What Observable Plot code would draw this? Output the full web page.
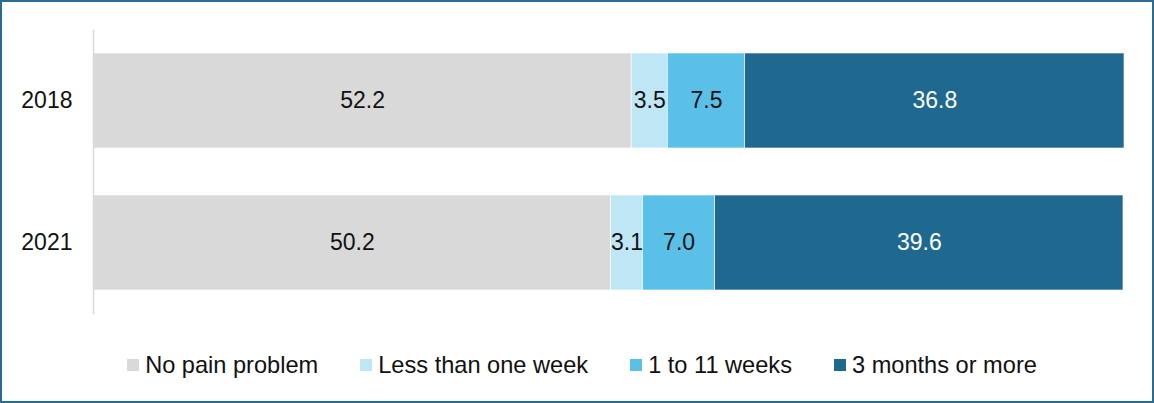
<!DOCTYPE html>
<html>
<head>
<meta charset="utf-8">
<script src="https://cdn.jsdelivr.net/npm/d3@7"></script>
<script src="https://cdn.jsdelivr.net/npm/@observablehq/plot@0.6"></script>
<style>
  html, body { margin: 0; padding: 0; background: #fff; }
  #wrap { position: relative; width: 1154px; height: 403px; font-family: "Liberation Sans", Arial, sans-serif; }
  #chart { position: absolute; left: 0; top: 0; }
  #legend { position: absolute; left: 5px; width: 1154px; top: 352px; display: flex; justify-content: center; gap: 42px; font-size: 23.6px; line-height: 26px; color: #111; }
  .item { display: flex; align-items: center; }
  .sw { width: 12px; height: 12px; margin-right: 6px; }
  #frame { position: absolute; left: 0; top: 0; width: 1154px; height: 403px; box-sizing: border-box; border: 2px solid #2b6c93; pointer-events: none; }
</style>
</head>
<body>
<div id="wrap">
  <div id="chart"></div>
  <div id="legend"></div>
  <div id="frame"></div>
</div>
<script>
const years = ["2018", "2021"];
const categories = ["No pain problem", "Less than one week", "1 to 11 weeks", "3 months or more"];
const colors = ["#d9d9d9", "#bee6f4", "#5bc0e8", "#1f6990"];
const labelColors = ["#111111", "#111111", "#111111", "#ffffff"];
const values2018 = [52.2, 3.5, 7.5, 36.8];
const values2021 = [50.2, 3.1, 7.0, 39.6];

const seriesByYear = {"2018": values2018, "2021": values2021};
const data = [];
for (const y of years) {
  categories.forEach((c, i) => {
    data.push({year: y, cat: c, value: seriesByYear[y][i], color: colors[i], labelColor: labelColors[i]});
  });
}

const chart = Plot.plot({
  width: 1154,
  height: 330,
  marginTop: 30,
  marginBottom: 16,
  marginLeft: 93,
  marginRight: 30,
  style: {fontFamily: "'Liberation Sans', Arial, sans-serif", fontSize: "23px", color: "#111", background: "transparent"},
  x: {domain: [0, 100], axis: null},
  y: {domain: years, paddingInner: 0.33, paddingOuter: 0.165, label: null},
  color: {type: "identity"},
  marks: [
    Plot.barX(data, Plot.stackX({x: "value", y: "year", z: "cat", fill: "color", stroke: "white", strokeWidth: 0.6})),
    Plot.ruleX([0], {stroke: "#d9d9d9", strokeWidth: 1.5}),
    Plot.textX(data, Plot.stackX({x: "value", y: "year", z: "cat", text: d => d.value.toFixed(1), fill: "labelColor", fontSize: 23})),
    Plot.axisY({tickSize: 0, tickPadding: 21, fontSize: 23, label: null, fill: "#111"})
  ]
});
document.getElementById("chart").appendChild(chart);

const legend = document.getElementById("legend");
categories.forEach((c, i) => {
  const item = document.createElement("div");
  item.className = "item";
  const sw = document.createElement("span");
  sw.className = "sw";
  sw.style.background = colors[i];
  const tx = document.createElement("span");
  tx.textContent = c;
  item.appendChild(sw);
  item.appendChild(tx);
  legend.appendChild(item);
});
</script>
</body>
</html>
